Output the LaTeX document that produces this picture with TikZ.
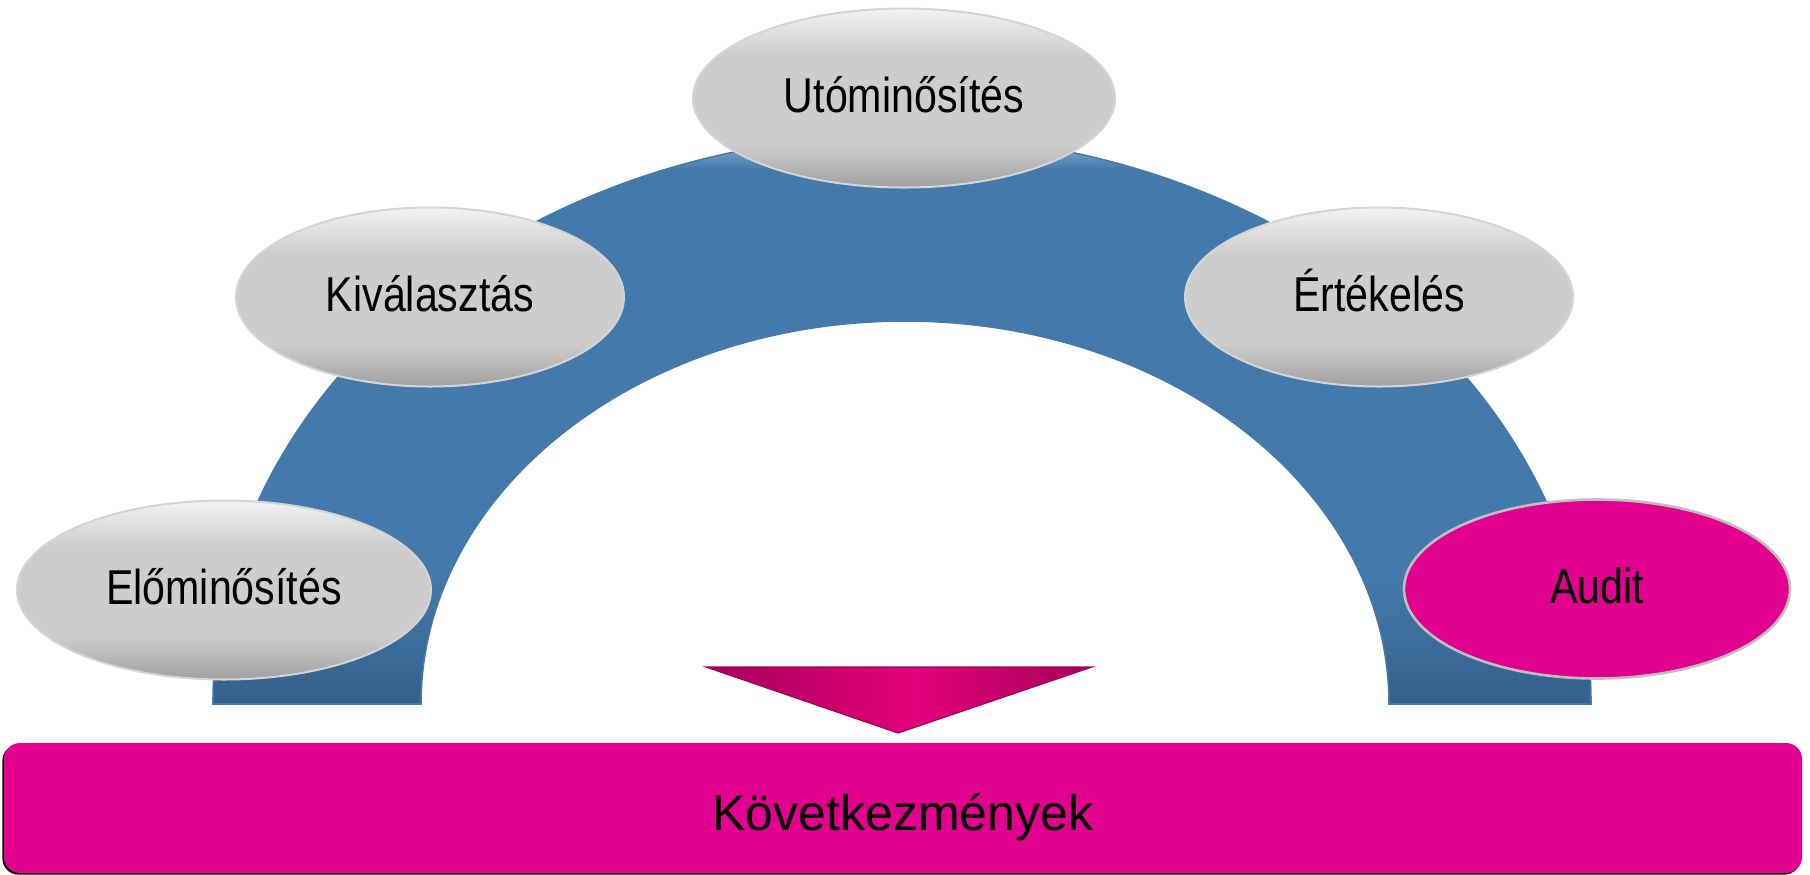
\documentclass[tikz,border=0pt]{standalone}
\usepackage{fontspec}
\setmainfont{Liberation Sans}
\newfontfamily\narrowsans[FakeStretch=0.84]{Liberation Sans}
\usetikzlibrary{shapes,shadows}
\definecolor{archblue}{HTML}{447AAB}
\definecolor{archdark}{HTML}{34608A}
\definecolor{archlight}{HTML}{9DBCD8}
\definecolor{ovalgray}{HTML}{CDCDCD}
\definecolor{ovaltop}{HTML}{F2F2F2}
\definecolor{ovalbot}{HTML}{A0A0A0}
\definecolor{ovalrim}{HTML}{D4D4D4}
\definecolor{auditpink}{HTML}{E2008F}
\definecolor{tipbright}{HTML}{E4007A}
\definecolor{tipdark}{HTML}{A6005C}
\pgfdeclareverticalshading{archshade}{100bp}{color(0bp)=(archdark); color(25bp)=(archdark); color(36bp)=(archblue); color(72bp)=(archblue); color(75bp)=(archlight); color(100bp)=(archlight)}
\pgfdeclareverticalshading{ovalshade}{100bp}{color(0bp)=(ovalbot); color(25bp)=(ovalbot); color(37bp)=(ovalgray); color(62bp)=(ovalgray); color(75bp)=(ovaltop); color(100bp)=(ovaltop)}
\pgfdeclarehorizontalshading{tipshade}{100bp}{color(0bp)=(tipdark); color(25bp)=(tipdark); color(52bp)=(tipbright); color(75bp)=(tipdark); color(100bp)=(tipdark)}
\tikzset{
  ovalbase/.style={ellipse,draw=ovalrim,line width=1pt,minimum height=89.5pt,inner sep=0pt,
    text height=14.5pt,text depth=0pt,font=\narrowsans\fontsize{24.5}{29}\selectfont},
  phasebox/.style={ovalbase,shading=ovalshade},
  auditbox/.style={ovalbase,fill=auditpink,line width=1.3pt,draw=ovalrim!90!black},
  conseqbox/.style={rectangle,rounded corners=8pt,fill=auditpink,minimum width=899pt,minimum height=65pt,
    text height=22pt,text depth=0pt,font=\fontsize{25}{30}\selectfont,
    general shadow={fill=black,shadow xshift=-0.8pt,shadow yshift=-0.8pt}}
}
\newcommand{\phaseoval}[6]{\node[#1,minimum width=#5pt] (#2) at (#3,#4) {#6};}

\begin{document}
\begin{tikzpicture}[x=0.5pt,y=-0.5pt]
    \useasboundingbox (0,0) rectangle (1810,874);
    % arch
    \draw[shading=archshade,draw=archblue,line width=0.8pt] (213,704) arc[start angle=180,end angle=360,x radius=689,y radius=569]
      -- (1389,704) arc[start angle=0,end angle=-180,x radius=484,y radius=383] -- cycle;
    % arrow head
    \coordinate (tipL) at (706,667); \coordinate (tipR) at (1092,667); \coordinate (tipB) at (898,733);
    \draw[shading=tipshade,draw=tipdark,line width=0.6pt] (tipL) -- (tipR) -- (tipB) -- cycle;
    \node[conseqbox] (kov) at (903,808) {Következmények};
    \phaseoval{phasebox}{pre}{224}{590}{207}{Előminősítés}
    \phaseoval{phasebox}{sel}{430}{297}{194}{Kiválasztás}
    \phaseoval{phasebox}{post}{904}{98}{211}{Utóminősítés}
    \phaseoval{phasebox}{eval}{1379}{297}{194}{Értékelés}
    \phaseoval{auditbox}{audit}{1597}{589}{193}{Audit}
\end{tikzpicture}
\end{document}
